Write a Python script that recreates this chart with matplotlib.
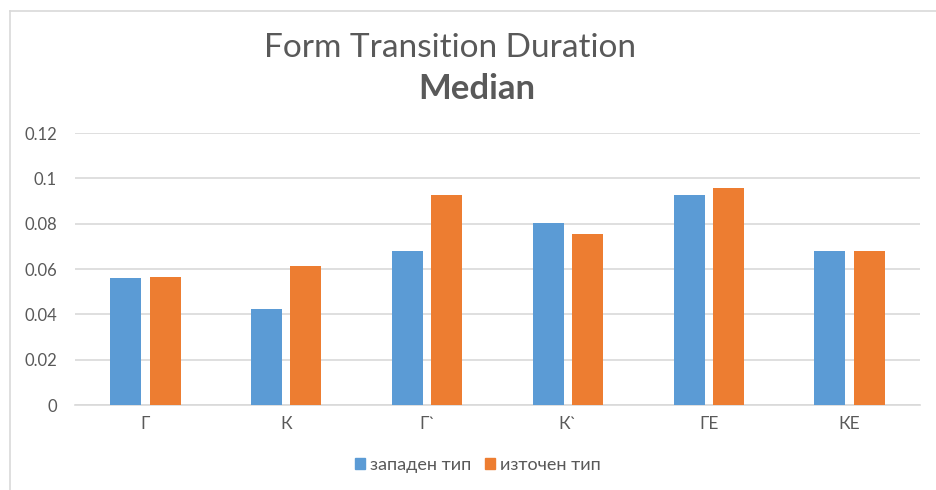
import matplotlib
matplotlib.use("Agg")
import matplotlib.pyplot as plt
import numpy as np
from matplotlib.patches import Patch
from matplotlib.lines import Line2D

categories = ["Г", "К", "Г`", "К`", "ГЕ", "КЕ"]
western = [0.056, 0.0425, 0.068, 0.0805, 0.0925, 0.068]
eastern = [0.0565, 0.0615, 0.0925, 0.0755, 0.0958, 0.068]
series_names = ["западен тип", "източен тип"]
yticks = [0, 0.02, 0.04, 0.06, 0.08, 0.1, 0.12]
ytick_labels = ["0", "0.02", "0.04", "0.06", "0.08", "0.1", "0.12"]

BLUE = "#5B9BD5"
ORANGE = "#ED7D31"
GRID = "#D9D9D9"
TEXT = "#595959"

plt.rcParams['font.family'] = ['Lato', 'Open Sans', 'DejaVu Sans']

W, H = 936, 490
fig = plt.figure(figsize=(W / 100, H / 100), dpi=100)
ax = fig.add_axes([75 / W, 1 - 405 / H, (920 - 75) / W, (405 - 133) / H])

x = np.arange(len(categories))
bw = 0.22
ax.bar(x - 0.14, western, width=bw, color=BLUE, label=series_names[0], zorder=3)
ax.bar(x + 0.14, eastern, width=bw, color=ORANGE, label=series_names[1], zorder=3)

ax.set_xlim(-0.5, len(categories) - 0.5)
ax.set_ylim(0, 0.12)
ax.set_yticks(yticks)
ax.set_yticklabels(ytick_labels)
ax.set_xticks(x)
ax.set_xticklabels(categories)
ax.yaxis.grid(True, color=GRID, linewidth=1.2, zorder=0)
ax.set_axisbelow(True)
for s in ["top", "right", "left"]:
    ax.spines[s].set_visible(False)
ax.spines["bottom"].set_color(GRID)
ax.spines["bottom"].set_linewidth(1.2)
ax.tick_params(axis="both", length=0, colors=TEXT)
ax.tick_params(axis="y", pad=13, labelsize=12)
ax.tick_params(axis="x", pad=8, labelsize=12.5)

# titles
fig.text(450 / W, 1 - 48 / H, "Form Transition Duration", ha="center", va="center",
         fontsize=24, color=TEXT)
fig.text(477 / W, 1 - 89 / H, "Median", ha="center", va="center",
         fontsize=25, fontweight="bold", color=TEXT)

# chart border (light)
fig.add_artist(Line2D([9.5 / W, 9.5 / W], [0, 1 - 11.5 / H], transform=fig.transFigure,
                      color="#D9D9D9", linewidth=1.2))
fig.add_artist(Line2D([9.5 / W, 1], [1 - 11.5 / H, 1 - 11.5 / H], transform=fig.transFigure,
                      color="#D9D9D9", linewidth=1.2))

handles = [Patch(color=BLUE), Patch(color=ORANGE)]
fig.legend(handles, series_names, loc="center", bbox_to_anchor=(478 / W, 1 - 465 / H),
           ncol=2, frameon=False, fontsize=13, labelcolor=TEXT,
           handlelength=0.55, handleheight=0.55, handletextpad=0.25, columnspacing=0.8)

fig.savefig("out.png", dpi=100)
